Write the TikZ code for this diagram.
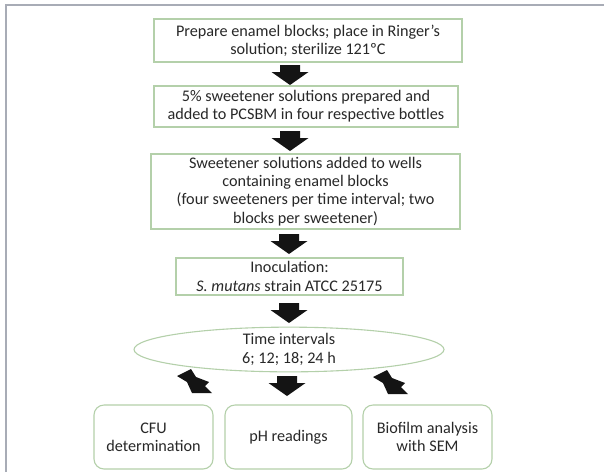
\documentclass[tikz,border=0pt]{standalone}
\usepackage{fontspec}
\setmainfont{Carlito}
\usetikzlibrary{shapes.geometric}
\definecolor{boxgreen}{RGB}{180,208,170}
\definecolor{framegray}{RGB}{168,172,182}
\definecolor{txt}{RGB}{40,40,40}
\tikzset{
  stepbox/.style={draw=boxgreen, line width=1.1pt, fill=white, align=center,
    inner sep=0pt, text=txt, font=\fontsize{16.2}{18.3}\selectfont},
  endbox/.style={stepbox, rounded corners=10pt, minimum height=64pt},
  ovalbox/.style={stepbox, ellipse},
  blockarrow/.pic={\fill[black!92] (-10,0) -- (10,0) -- (10,7) -- (18.5,7) -- (0,20) -- (-18.5,7) -- (-10,7) -- cycle;},
  skewarrow/.pic={\fill[black!92] (-13,6) -- (1,-1) -- (6,7) -- (19,12) -- (15,16) -- (22,23) -- (2,23) -- (-3,12) -- cycle;}
}
\begin{document}
\begin{tikzpicture}[x=1pt,y=-1pt]
\useasboundingbox (0,0) rectangle (604,472);
\fill[white] (0,0) rectangle (604,472);
\draw[framegray, line width=2pt] (6,472) -- (6,5) -- (604,5);

\node[stepbox, minimum width=308pt, minimum height=43pt] (b1) at (308,40.5)
  {Prepare enamel blocks; place in Ringer’s\\solution; sterilize 121ºC};
\node[stepbox, minimum width=304pt, minimum height=41pt] (b2) at (306,106.5)
  {5\% sweetener solutions prepared and\\added to PCSBM in four respective bottles};
\node[stepbox, minimum width=309pt, minimum height=75pt] (b3) at (305.5,191.5)
  {Sweetener solutions added to wells\\containing enamel blocks\\(four sweeteners per time interval; two\\blocks per sweetener)};
\node[stepbox, minimum width=227pt, minimum height=37pt] (b4) at (289.5,276.5)
  {Inoculation:\\\textit{S. mutans} strain ATCC 25175};
\node[ovalbox, minimum width=310pt, minimum height=41pt] (t) at (289,349.5)
  {Time intervals\\6; 12; 18; 24 h};
\node[endbox, minimum width=119pt] (cfu) at (153.5,437) {CFU\\determination};
\node[endbox, minimum width=127pt] (ph) at (288.5,437) {pH readings};
\node[endbox, minimum width=129pt] (sem) at (427.5,437) {Biofilm analysis\\with SEM};

\coordinate (a1) at (290,65);
\coordinate (a2) at (290,131);
\coordinate (a3) at (289,234);
\coordinate (a4) at (289,303);
\coordinate (a5) at (287,376);
\pic at (a1) {blockarrow};
\pic at (a2) {blockarrow};
\pic at (a3) {blockarrow};
\pic at (a4) {blockarrow};
\pic at (a5) {blockarrow};
\coordinate (al) at (190,370);
\coordinate (ar) at (386,371);
\pic at (al) {skewarrow};
\begin{scope}[shift={(ar)}, xscale=-1]
  \pic at (0,0) {skewarrow};
\end{scope}
\end{tikzpicture}
\end{document}
